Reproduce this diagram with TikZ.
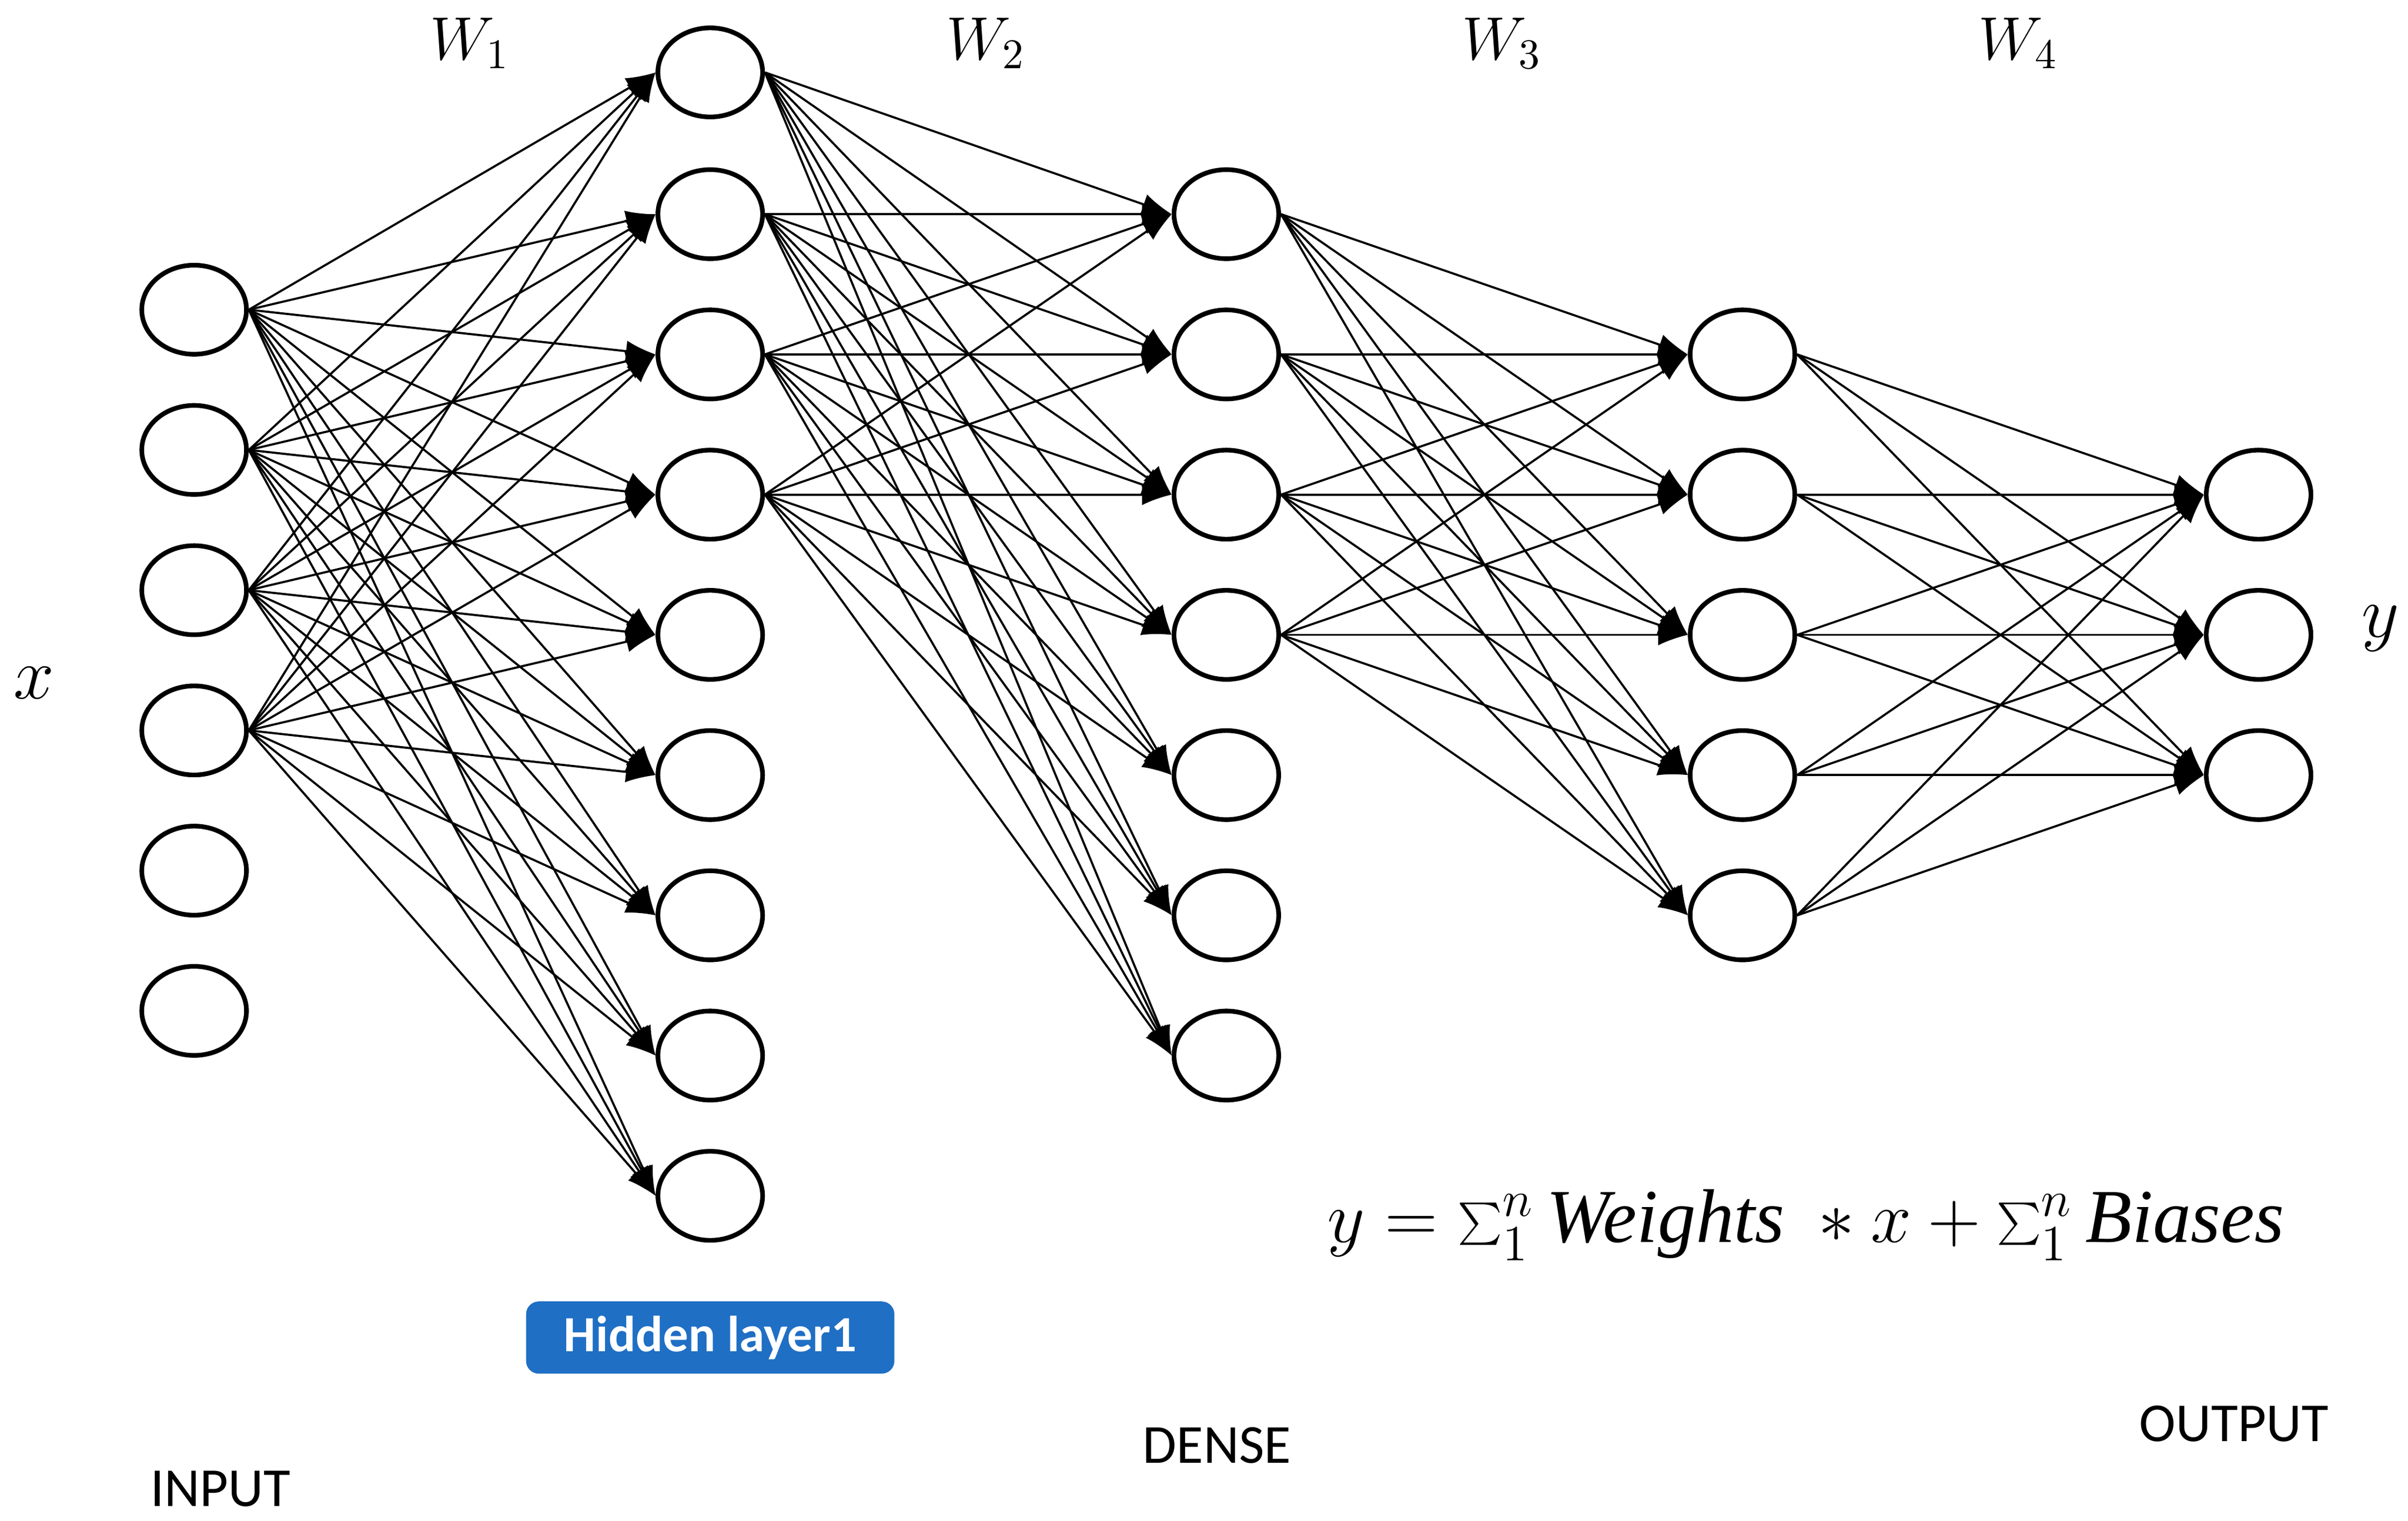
\documentclass[tikz,border=0pt]{standalone}
\usepackage{fontspec}
\setmainfont{Carlito}
\newfontfamily\serifit{Liberation Serif}
\usetikzlibrary{arrows.meta,shapes.geometric}
\begin{document}
\begin{tikzpicture}[x=0.0128cm,y=-0.0128cm,
  neu/.style={ellipse,draw,line width=1.1pt,minimum width=0.87cm,minimum height=0.74cm,inner sep=0pt},
  con/.style={line width=0.5pt,-{Latex[length=7pt,width=5pt]}},
  lbl/.style={font=\fontsize{13}{15}\selectfont},
  wl/.style={font=\serifit\itshape\fontsize{14}{16}\selectfont}]
\useasboundingbox (0,0) rectangle (1563,987);
\foreach \i/\y in {1/201,2/292,3/383,4/474,5/565,6/656} \node[neu] (a\i) at (126,\y) {};
\foreach \i/\y in {1/47,2/139,3/230,4/321,5/412,6/503,7/594,8/685,9/776} \node[neu] (b\i) at (461,\y) {};
\foreach \i/\y in {1/139,2/230,3/321,4/412,5/503,6/594,7/685} \node[neu] (c\i) at (796,\y) {};
\foreach \i/\y in {1/230,2/321,3/412,4/503,5/594} \node[neu] (d\i) at (1131,\y) {};
\foreach \i/\y in {1/321,2/412,3/503} \node[neu] (e\i) at (1466,\y) {};
\foreach \s in {1,...,4} \foreach \t in {1,...,9} \draw[con] (a\s.east) -- (b\t.west);
\foreach \s in {1,...,4} \foreach \t in {1,...,7} \draw[con] (b\s.east) -- (c\t.west);
\foreach \s in {1,...,4} \foreach \t in {1,...,5} \draw[con] (c\s.east) -- (d\t.west);
\foreach \s in {1,...,5} \foreach \t in {1,...,3} \draw[con] (d\s.east) -- (e\t.west);
\node[wl] (w1) at (305,28) {$W_1$};
\node[wl] (w2) at (640,28) {$W_2$};
\node[wl] (w3) at (975,28) {$W_3$};
\node[wl] (w4) at (1310,28) {$W_4$};
\node[font=\fontsize{18}{20}\selectfont] (xl) at (22,443) {$x$};
\node[font=\fontsize{18}{20}\selectfont] (yl) at (1545,408) {$y$};
\node[lbl] (inp) at (143,966) {INPUT};
\node[lbl] (den) at (790,938) {DENSE};
\node[lbl] (out) at (1450,924) {OUTPUT};
\node[fill={rgb,255:red,31;green,111;blue,197},rounded corners=3pt,text=white,minimum width=3.06cm,minimum height=0.6cm,font=\bfseries\fontsize{12}{14}\selectfont] (hl) at (461,868) {Hidden layer1};
\node[font=\fontsize{18}{20}\selectfont] (eq) at (1172,795) {$y=\sum_1^n \textit{\serifit Weights}\ \ast x+\sum_1^n \textit{\serifit Biases}$};
\end{tikzpicture}
\end{document}
